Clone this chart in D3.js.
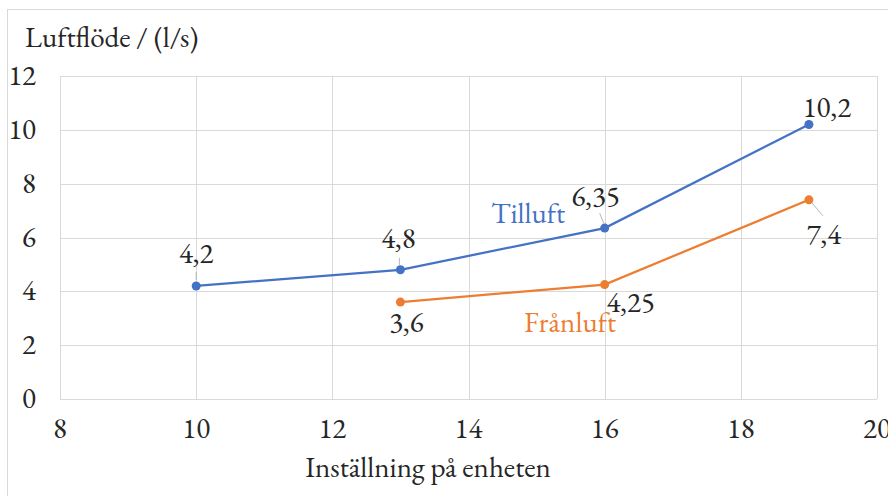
<!DOCTYPE html>
<html>
<head>
<meta charset="utf-8">
<script src="https://cdn.jsdelivr.net/npm/d3@7/dist/d3.min.js"></script>
<style>
  body { margin: 0; background: #fff; }
</style>
</head>
<body>
<svg id="chart" width="888" height="496"></svg>
<script>
// data
const tilluftX = [10, 13, 16, 19];
const tilluftY = [4.2, 4.8, 6.35, 10.2];
const franluftX = [13, 16, 19];
const franluftY = [3.6, 4.25, 7.4];
const xTicks = [8, 10, 12, 14, 16, 18, 20];
const yTicks = [0, 2, 4, 6, 8, 10, 12];

// label placement (px, relative to the point) - style only
const tilluftLabelPos = [[0, -23], [-2, -22], [-9, -22], [18, -7]];
const franluftLabelPos = [[6, 30], [26, 27], [15, 44]];
const tilluftLeaders = [[0, -6, 0, -14], [-1, -5, -1, -12], [-1, -5, -5, -15], null];
const franluftLeaders = [null, null, [3, 3, 14, 16]];

const blue = '#4472C4', orange = '#ED7D31';
const serif = '"EB Garamond", "Liberation Serif", serif';
const fs = 29;
const fmt = v => String(v).replace('.', ',');

const svg = d3.select('#chart');

// outer frame
svg.append('rect')
  .attr('x', 7.5).attr('y', 9.5)
  .attr('width', 900).attr('height', 500)
  .attr('fill', 'none').attr('stroke', '#d9d9d9');

const x = d3.scaleLinear().domain([8, 20]).range([60, 877]);
const y = d3.scaleLinear().domain([0, 12]).range([399, 76]);

// grid
svg.append('g').selectAll('line')
  .data(yTicks).enter().append('line')
    .attr('x1', x(8)).attr('x2', x(20))
    .attr('y1', d => Math.round(y(d)) + 0.5).attr('y2', d => Math.round(y(d)) + 0.5)
    .attr('stroke', '#d9d9d9');
svg.append('g').selectAll('line')
  .data(xTicks).enter().append('line')
    .attr('x1', d => Math.round(x(d)) + 0.5).attr('x2', d => Math.round(x(d)) + 0.5)
    .attr('y1', y(12)).attr('y2', y(0))
    .attr('stroke', '#d9d9d9');

function addText(sel){
  return sel.style('font-family', serif).style('font-size', fs + 'px');
}

// tick labels
addText(svg.append('g').selectAll('text')
  .data(yTicks).enter().append('text'))
    .attr('x', 36).attr('y', d => y(d) + 9)
    .attr('text-anchor', 'end')
    .attr('fill', '#262626')
    .text(d => d);
addText(svg.append('g').selectAll('text')
  .data(xTicks).enter().append('text'))
    .attr('x', d => x(d)).attr('y', 438)
    .attr('text-anchor', 'middle')
    .attr('fill', '#262626')
    .text(d => d);

// axis titles
addText(svg.append('text'))
  .attr('x', 25).attr('y', 47)
  .attr('fill', '#262626')
  .text('Luftflöde / (l/s)');
addText(svg.append('text'))
  .attr('x', 428).attr('y', 477)
  .attr('text-anchor', 'middle')
  .attr('fill', '#262626')
  .text('Inställning på enheten');

function drawSeries(xs, ys, color, labelPos, leaders){
  const pts = xs.map((d, i) => ({x: d, y: ys[i]}));
  const line = d3.line().x(d => x(d.x)).y(d => y(d.y));
  const g = svg.append('g');
  g.append('path')
    .datum(pts)
    .attr('d', line)
    .attr('fill', 'none')
    .attr('stroke', color)
    .attr('stroke-width', 2.25);
  g.selectAll('circle')
    .data(pts).enter().append('circle')
      .attr('cx', d => x(d.x)).attr('cy', d => y(d.y))
      .attr('r', 4.5).attr('fill', color);
  pts.forEach((d, i) => {
    const l = leaders[i];
    if(l){
      g.append('line')
        .attr('x1', x(d.x) + l[0]).attr('y1', y(d.y) + l[1])
        .attr('x2', x(d.x) + l[2]).attr('y2', y(d.y) + l[3])
        .attr('stroke', '#a6a6a6').attr('stroke-width', 0.8);
    }
    addText(g.append('text'))
      .attr('x', x(d.x) + labelPos[i][0])
      .attr('y', y(d.y) + labelPos[i][1])
      .attr('text-anchor', 'middle')
      .attr('fill', '#262626')
      .text(fmt(d.y));
  });
}

drawSeries(tilluftX, tilluftY, blue, tilluftLabelPos, tilluftLeaders);
drawSeries(franluftX, franluftY, orange, franluftLabelPos, franluftLeaders);

// series names
addText(svg.append('text'))
  .attr('x', 491).attr('y', 223)
  .attr('fill', blue)
  .text('Tilluft');
addText(svg.append('text'))
  .attr('x', 524).attr('y', 332)
  .attr('fill', orange)
  .text('Frånluft');
</script>
</body>
</html>
